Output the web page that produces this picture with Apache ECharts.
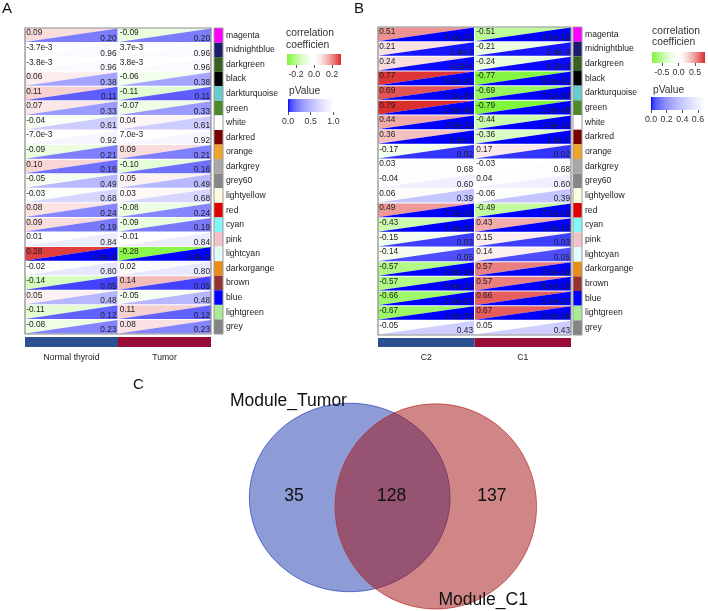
<!DOCTYPE html>
<html><head><meta charset="utf-8">
<script src="https://cdn.jsdelivr.net/npm/echarts@6/dist/echarts.min.js"></script>
<style>html,body{margin:0;padding:0;background:#fff}#c{width:708px;height:611px}</style>
</head><body><div id="c"></div>
<script>
// ---------- data ----------
const modules = ['magenta','midnightblue','darkgreen','black','darkturquoise','green','white','darkred','orange','darkgrey','grey60','lightyellow','red','cyan','pink','lightcyan','darkorgange','brown','blue','lightgreen','grey'];
const moduleColors = ['#ff00ff','#1c1c6e','#36601f','#000000','#66cccc','#4a8a2a','#ffffff','#7d0000','#eea52c','#a8a8a8','#878787','#fdfbe0','#e00000','#80f8f8','#f2c2ca','#e2fbfb','#e88c1c','#963232','#0000ff','#aaea94','#858585'];

const groupsA = ['Normal thyroid','Tumor'];
const corrA_Normal = [0.09,-0.0037,-0.0038,0.06,0.11,0.07,-0.04,-0.007,-0.09,0.10,-0.05,-0.03,0.08,0.09,0.01,0.28,-0.02,-0.14,0.05,-0.11,-0.08];
const corrA_Tumor  = [-0.09,0.0037,0.0038,-0.06,-0.11,-0.07,0.04,0.007,0.09,-0.10,0.05,0.03,-0.08,-0.09,-0.01,-0.28,0.02,0.14,-0.05,0.11,0.08];
const pA = [0.20,0.96,0.96,0.38,0.11,0.33,0.61,0.92,0.21,0.16,0.49,0.68,0.24,0.19,0.84,4.6e-5,0.80,0.05,0.48,0.12,0.23];

const groupsB = ['C2','C1'];
const corrB_C2 = [0.51,0.21,0.24,0.77,0.69,0.79,0.44,0.36,-0.17,0.03,-0.04,0.06,0.49,-0.43,-0.15,-0.14,-0.57,-0.57,-0.66,-0.67,-0.05];
const corrB_C1 = [-0.51,-0.21,-0.24,-0.77,-0.69,-0.79,-0.44,-0.36,0.17,-0.03,0.04,-0.06,-0.49,0.43,0.15,0.14,0.57,0.57,0.66,0.67,0.05];
const pB = [4.4e-15,2.4e-3,4.2e-4,8.4e-41,7.1e-30,2.6e-45,2.9e-11,1.6e-7,0.02,0.68,0.60,0.39,7.2e-14,1.3e-10,0.03,0.05,2.9e-19,8.4e-19,2.4e-27,2.0e-28,0.43];

const groupColors = ['#2b5190','#980c36'];
const corrTicksA = [-0.2,0,0.2];
const pTicksA = [0,0.5,1.0];
const corrTicksB = [-0.5,0,0.5];
const pTicksB = [0,0.2,0.4,0.6];

const vennNames = ['Module_Tumor','Module_C1'];
const vennCounts = [35,128,137]; // only Tumor, both, only C1

// ---------- helpers ----------
const FONT = '"Liberation Sans", Arial, Helvetica, sans-serif';
const WHITE=[255,255,255], RED=[220,42,42], GREEN=[125,245,55], BLUE=[0,0,255];
function mix(a,b,t){return 'rgb('+a.map((v,i)=>Math.round(v+(b[i]-v)*t)).join(',')+')';}
function corrColor(c,cmax){const t=Math.min(1,Math.pow(Math.abs(c)/cmax,1.5));return mix(WHITE,c>=0?RED:GREEN,t);}
function pColor(p,pmax){const t=Math.min(1,Math.pow(Math.max(p,0)/pmax,0.45));return mix(BLUE,WHITE,t);}
function fmt(v){if(v!==0 && Math.abs(v)<0.01) return v.toExponential(1); return v.toFixed(2);}
function gradStops(fn,min,max){const s=[];for(let i=0;i<=30;i++){const v=min+(max-min)*i/30;s.push({offset:i/30,color:fn(v)});}return s;}

function heatData(c1,c2,p){const d=[];for(let j=0;j<modules.length;j++){d.push([0,j,c1[j],p[j]]);d.push([1,j,c2[j],p[j]]);}return d;}
function heatRender(cmax,pmax){
  return function(params,api){
    const x=api.value(0),y=api.value(1),c=api.value(2),p=api.value(3);
    const ctr=api.coord([x,y]);const sz=api.size([1,1]);
    const w=sz[0],h=sz[1];
    const l=ctr[0]-w/2+(x===1?0.5:0),r=ctr[0]+w/2-(x===0?0.5:0),t=ctr[1]-h/2+0.5,b=ctr[1]+h/2-0.5;
    const f='normal 8.3px '+FONT;
    return {type:'group',children:[
      {type:'polygon',shape:{points:[[l,t],[r,t],[l,b]]},style:{fill:corrColor(c,cmax)}},
      {type:'polygon',shape:{points:[[r,t],[r,b],[l,b]]},style:{fill:pColor(p,pmax)}},
      {type:'text',style:{text:fmt(c),x:l+1.2,y:t+0.6,font:f,fill:'#222',align:'left',verticalAlign:'top',textAlign:'left',textVerticalAlign:'top'}},
      {type:'text',style:{text:fmt(p),x:r-1,y:b+0.6,font:f,fill:'#222',align:'right',verticalAlign:'bottom',textAlign:'right',textVerticalAlign:'bottom'}}
    ]};
  };
}
function frameRender(color,lw){
  return function(params,api){const cs=params.coordSys;
    return {type:'rect',shape:{x:cs.x,y:cs.y,width:cs.width,height:cs.height},style:{fill:null,stroke:color,lineWidth:lw}};};
}
function barRender(fn,min,max){
  return function(params,api){const cs=params.coordSys;
    return {type:'rect',shape:{x:cs.x,y:cs.y,width:cs.width,height:cs.height},style:{fill:new echarts.graphic.LinearGradient(0,0,1,0,gradStops(fn,min,max))}};};
}

// ---------- layout ----------
const grids = [
  {left:25,top:28,width:186,height:306},   //0 heat A
  {left:214,top:28,width:9,height:306},    //1 strip A
  {left:25,top:337,width:186,height:10},   //2 group A
  {left:378,top:27,width:193,height:308},  //3 heat B
  {left:573,top:27,width:9,height:308},    //4 strip B
  {left:378,top:338,width:193,height:9},   //5 group B
  {left:287,top:54,width:54,height:11},    //6 corr legend A
  {left:288,top:99,width:50,height:13},    //7 p legend A
  {left:652,top:52,width:53,height:11},    //8 corr legend B
  {left:651,top:97,width:54,height:13},    //9 p legend B
  {left:248,top:402,width:292,height:208}  //10 venn
];
const xAxes=[], yAxes=[], series=[];
const hidden={show:false};
function addHeat(gi,groups,c1,c2,p,cmax,pmax){
  xAxes.push({gridIndex:gi,type:'category',data:groups,show:false});
  yAxes.push({gridIndex:gi,type:'category',data:modules,inverse:true,show:false});
  const ai=xAxes.length-1;
  series.push({type:'custom',xAxisIndex:ai,yAxisIndex:ai,data:heatData(c1,c2,p),renderItem:heatRender(cmax,pmax),silent:true});
  series.push({type:'custom',xAxisIndex:ai,yAxisIndex:ai,data:[[0,0]],renderItem:frameRender('#8a8a8a',1.2),z:5,silent:true});
}
function addStrip(gi){
  xAxes.push({gridIndex:gi,type:'value',min:0,max:1,show:false});
  yAxes.push({gridIndex:gi,type:'category',data:modules,inverse:true,position:'right',
    axisLine:hidden,axisTick:hidden,axisLabel:{margin:3,fontSize:8.6,color:'#222',fontFamily:FONT}});
  const ai=xAxes.length-1;
  series.push({type:'bar',xAxisIndex:ai,yAxisIndex:ai,barWidth:'100%',silent:true,
    data:moduleColors.map(c=>({value:1,itemStyle:{color:c}}))});
  series.push({type:'custom',xAxisIndex:ai,yAxisIndex:ai,data:[[0,0]],renderItem:frameRender('#9a9a9a',1),z:5,silent:true});
}
function addGroup(gi,groups){
  xAxes.push({gridIndex:gi,type:'category',data:groups,axisLine:hidden,axisTick:hidden,
    axisLabel:{margin:6,fontSize:8.6,color:'#222',fontFamily:FONT}});
  yAxes.push({gridIndex:gi,type:'value',min:0,max:1,show:false});
  const ai=xAxes.length-1;
  series.push({type:'bar',xAxisIndex:ai,yAxisIndex:ai,barWidth:'100%',silent:true,
    data:groups.map((g,i)=>({value:1,itemStyle:{color:groupColors[i]}}))});
}
function addLegend(gi,min,max,ticks,fn){
  xAxes.push({gridIndex:gi,type:'value',min:min,max:max,axisLine:hidden,splitLine:hidden,
    axisTick:{show:true,length:3,customValues:ticks,lineStyle:{color:'#555',width:1}},
    axisLabel:{margin:5,fontSize:8.8,color:'#333',fontFamily:FONT,customValues:ticks,formatter:v=>v.toFixed(1)}});
  yAxes.push({gridIndex:gi,type:'category',data:['a'],show:false});
  const ai=xAxes.length-1;
  series.push({type:'custom',xAxisIndex:ai,yAxisIndex:ai,data:[[min,0]],renderItem:barRender(fn,min,max),silent:true});
}
addHeat(0,groupsA,corrA_Normal,corrA_Tumor,pA,0.3,1.0);
addStrip(1);
addGroup(2,groupsA);
addHeat(3,groupsB,corrB_C2,corrB_C1,pB,0.8,0.69);
addStrip(4);
addGroup(5,groupsB);
addLegend(6,-0.3,0.3,corrTicksA,v=>corrColor(v,0.3));
addLegend(7,0,1.1,pTicksA,v=>pColor(v,1.0));
addLegend(8,-0.8,0.8,corrTicksB,v=>corrColor(v,0.8));
addLegend(9,0,0.69,pTicksB,v=>pColor(v,0.69));

// Venn (layout in venn-axis units)
xAxes.push({gridIndex:10,type:'value',min:0,max:100,show:false});
yAxes.push({gridIndex:10,type:'value',min:0,max:100,inverse:true,show:false});
const vi=xAxes.length-1;
const vennShapes=[ // cx, cy, rx, ry, label x, label y
  [34.83,45.9,34.35,45.3,-6.2,-0.5],
  [64.3,50.2,34.5,49.3,65.2,95.2]
];
const vennFill=['rgba(27,55,173,0.5)','rgba(161,13,13,0.5)'];
const vennStroke=['rgba(50,70,185,0.75)','rgba(185,45,45,0.7)'];
const vennCountPos=[[15.75,45.5],[49.2,45.5],[83.5,45.5]];
series.push({type:'custom',xAxisIndex:vi,yAxisIndex:vi,silent:true,
  data:vennNames.map((n,i)=>[vennShapes[i][0],vennShapes[i][1],i]),
  renderItem:function(params,api){
    const i=api.value(2);const s=vennShapes[i];
    const c=api.coord([s[0],s[1]]);const sz=api.size([s[2],s[3]]);
    const lp=api.coord([s[4],s[5]]);
    return {type:'group',children:[
      {type:'ellipse',shape:{cx:c[0],cy:c[1],rx:sz[0],ry:sz[1]},style:{fill:vennFill[i],stroke:vennStroke[i],lineWidth:1}},
      {type:'text',z2:10,style:{text:vennNames[i],x:lp[0],y:lp[1],font:'normal 17.5px '+FONT,fill:'#111',align:'left',verticalAlign:'middle',textAlign:'left',textVerticalAlign:'middle'}}
    ]};
  }});
series.push({type:'custom',xAxisIndex:vi,yAxisIndex:vi,silent:true,z:4,
  data:vennCounts.map((v,i)=>[vennCountPos[i][0],vennCountPos[i][1],v]),
  renderItem:function(params,api){
    const c=api.coord([api.value(0),api.value(1)]);
    return {type:'text',style:{text:String(api.value(2)),x:c[0],y:c[1],font:'normal 17.5px '+FONT,fill:'#111',align:'center',verticalAlign:'middle',textAlign:'center',textVerticalAlign:'middle'}};
  }});

function txt(t,x,y,size,color){return {type:'text',left:x,top:y,style:{text:t,font:'normal '+size+'px '+FONT,fill:color||'#333'}};}
const option={
  animation:false,
  backgroundColor:'#fff',
  grid:grids,
  xAxis:xAxes,
  yAxis:yAxes,
  series:series,
  graphic:[
    txt('A',2,1,15,'#111'),
    txt('B',354,1,15,'#111'),
    txt('C',133,377,15,'#111'),
    txt('correlation',286,28,10.3),
    txt('coefficien',286,40.5,10.3),
    txt('pValue',289,86,10.3),
    txt('correlation',652,26,10.3),
    txt('coefficien',652,37.5,10.3),
    txt('pValue',653,85,10.3)
  ]
};
const chart=echarts.init(document.getElementById('c'),null,{renderer:'canvas'});
chart.setOption(option);
</script></body></html>
